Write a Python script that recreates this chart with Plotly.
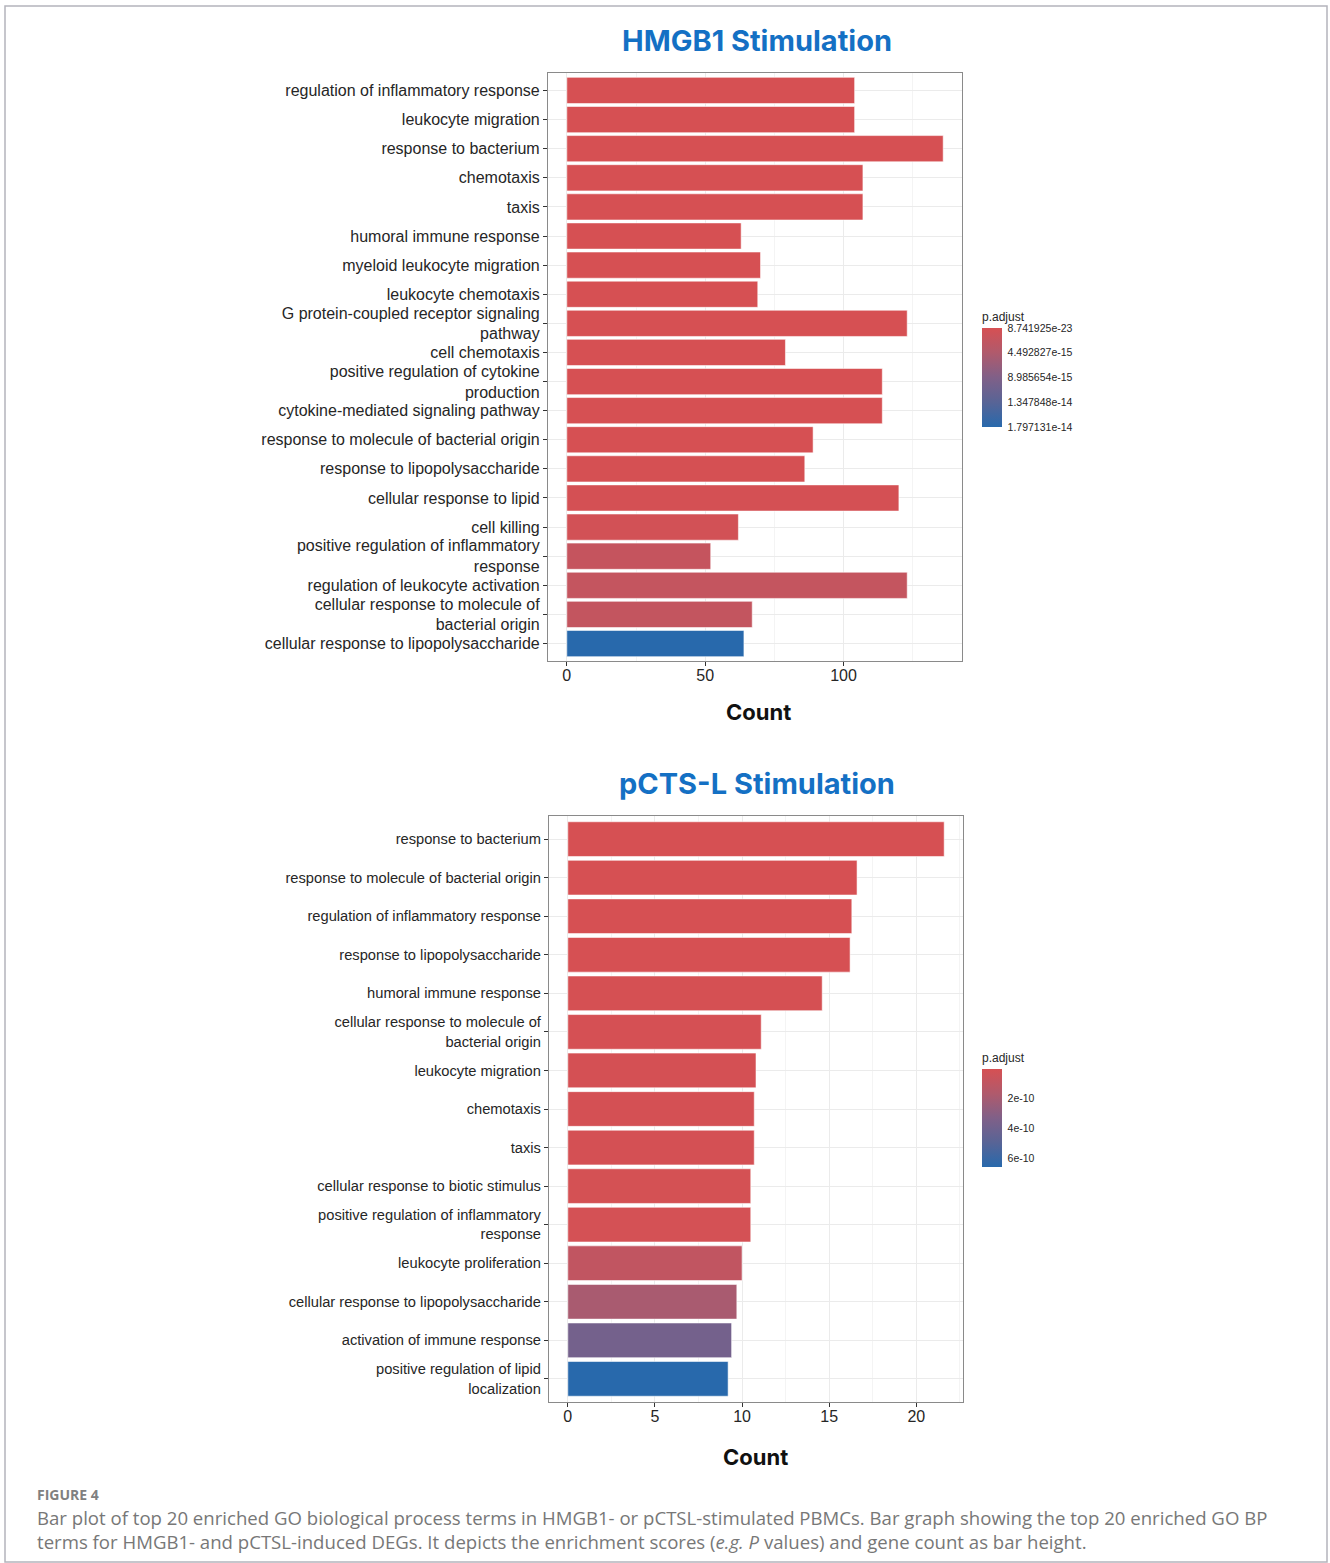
import plotly.graph_objects as go

# ---- HMGB1 panel: GO BP terms, gene counts and adjusted p-values ----
hmgb1_terms = [
    "regulation of inflammatory response",
    "leukocyte migration",
    "response to bacterium",
    "chemotaxis",
    "taxis",
    "humoral immune response",
    "myeloid leukocyte migration",
    "leukocyte chemotaxis",
    "G protein-coupled receptor signaling<br>pathway",
    "cell chemotaxis",
    "positive regulation of cytokine<br>production",
    "cytokine-mediated signaling pathway",
    "response to molecule of bacterial origin",
    "response to lipopolysaccharide",
    "cellular response to lipid",
    "cell killing",
    "positive regulation of inflammatory<br>response",
    "regulation of leukocyte activation",
    "cellular response to molecule of<br>bacterial origin",
    "cellular response to lipopolysaccharide",
]
hmgb1_count = [104, 104, 136, 107, 107, 63, 70, 69, 123, 79,
               114, 114, 89, 86, 120, 62, 52, 123, 67, 64]
hmgb1_padj = [8.741925e-23, 1.2e-21, 3.5e-21, 8.0e-21, 8.0e-21, 2.0e-19, 4.0e-19, 6.0e-19,
              1.0e-18, 4.0e-18, 1.0e-17, 1.0e-17, 3.0e-17, 8.0e-17, 2.0e-16, 5.0e-16,
              2.0e-15, 2.1e-15, 2.2e-15, 1.797131e-14]
hmgb1_ticks = [8.741925e-23, 4.492827e-15, 8.985654e-15, 1.347848e-14, 1.797131e-14]
hmgb1_ticktext = ["8.741925e-23", "4.492827e-15", "8.985654e-15", "1.347848e-14", "1.797131e-14"]

# ---- pCTS-L panel ----
pctsl_terms = [
    "response to bacterium",
    "response to molecule of bacterial origin",
    "regulation of inflammatory response",
    "response to lipopolysaccharide",
    "humoral immune response",
    "cellular response to molecule of<br>bacterial origin",
    "leukocyte migration",
    "chemotaxis",
    "taxis",
    "cellular response to biotic stimulus",
    "positive regulation of inflammatory<br>response",
    "leukocyte proliferation",
    "cellular response to lipopolysaccharide",
    "activation of immune response",
    "positive regulation of lipid<br>localization",
]
pctsl_count = [21.6, 16.6, 16.3, 16.2, 14.6, 11.1, 10.8, 10.7, 10.7, 10.5, 10.5, 10.0, 9.7, 9.4, 9.2]
pctsl_padj = [1.0e-12, 1.5e-12, 2.0e-12, 2.5e-12, 4.0e-12, 6.0e-12, 8.0e-12, 9.0e-12,
              9.0e-12, 1.0e-11, 1.1e-11, 9.0e-11, 1.9e-10, 3.8e-10, 6.6e-10]
pctsl_ticks = [2e-10, 4e-10, 6e-10]
pctsl_ticktext = ["2e-10", "4e-10", "6e-10"]

W, H = 1330, 1563
RED_BLUE = [
    [0.0, "rgb(40,105,172)"],
    [0.25, "rgb(88,100,150)"],
    [0.5, "rgb(128,96,136)"],
    [0.75, "rgb(176,90,108)"],
    [1.0, "rgb(214,80,83)"],
]
LABEL_FONT = dict(family="Liberation Sans, Arial, sans-serif", color="#262626")


def px_x(p):
    return p / W


def px_y(p):
    return 1 - p / H


fig = go.Figure()

# colour is driven by -p.adjust so the smallest p-values sit at the top of the colour bar
fig.add_trace(go.Bar(
    x=hmgb1_count, y=hmgb1_terms, orientation="h", width=0.9,
    marker=dict(color=[-v for v in hmgb1_padj], coloraxis="coloraxis",
                line=dict(color="rgba(255,255,255,0.55)", width=1)),
    xaxis="x", yaxis="y", showlegend=False,
))
fig.add_trace(go.Bar(
    x=pctsl_count, y=pctsl_terms, orientation="h", width=0.9,
    marker=dict(color=[-v for v in pctsl_padj], coloraxis="coloraxis2",
                line=dict(color="rgba(255,255,255,0.55)", width=1)),
    xaxis="x2", yaxis="y2", showlegend=False,
))


def xaxis_style(domain, rng, dtick, anchor):
    return dict(
        domain=domain, range=rng, anchor=anchor, dtick=dtick, tick0=0,
        showgrid=True, gridcolor="#ebebeb", gridwidth=1,
        minor=dict(showgrid=True, gridcolor="#f4f4f4", gridwidth=1, dtick=dtick / 2, tick0=0),
        zeroline=False, ticks="outside", ticklen=4, tickcolor="#333",
        tickfont=dict(size=16, **LABEL_FONT), ticklabelstandoff=-4,
        showline=True, linecolor="#8a8a8a", linewidth=1.2, mirror=True,
    )


def yaxis_style(domain, terms, anchor, size):
    return dict(
        domain=domain, type="category", categoryorder="array",
        categoryarray=list(reversed(terms)), range=[-0.6, len(terms) - 0.4],
        anchor=anchor, showgrid=True, gridcolor="#ebebeb", gridwidth=1,
        ticks="outside", ticklen=4, tickcolor="#333",
        tickfont=dict(size=size, **LABEL_FONT),
        showline=True, linecolor="#8a8a8a", linewidth=1.2, mirror=True,
    )


top_max = max(hmgb1_count)
bot_max = max(pctsl_count)


def colorbar_style(center_px, length_px, tickvals, ticktext):
    return dict(
        title=dict(text="p.adjust", side="top", font=dict(size=12, **LABEL_FONT)),
        x=px_x(982), xanchor="left", y=px_y(center_px), yanchor="middle",
        thickness=20, lenmode="pixels", len=length_px, outlinewidth=0,
        tickvals=[-v for v in tickvals], ticktext=ticktext,
        ticks="outside", ticklen=4, tickcolor="white",
        tickfont=dict(size=10.5, **LABEL_FONT), ypad=0, xpad=0,
    )


fig.update_layout(
    width=W, height=H,
    margin=dict(l=0, r=0, t=0, b=0),
    paper_bgcolor="white", plot_bgcolor="white",
    bargap=0.1,
    xaxis=xaxis_style([px_x(548), px_x(962)], [-0.05 * top_max, 1.05 * top_max], 50, "y"),
    yaxis=yaxis_style([px_y(661), px_y(73)], hmgb1_terms, "x", 16),
    xaxis2=xaxis_style([px_x(549), px_x(963)], [-0.05 * bot_max, 1.05 * bot_max], 5, "y2"),
    yaxis2=yaxis_style([px_y(1402), px_y(816)], pctsl_terms, "x2", 14.7),
    coloraxis=dict(
        colorscale=RED_BLUE, cmin=-max(hmgb1_padj), cmax=-min(hmgb1_padj),
        colorbar=colorbar_style(368, 118, hmgb1_ticks, hmgb1_ticktext),
    ),
    coloraxis2=dict(
        colorscale=RED_BLUE, cmin=-max(pctsl_padj), cmax=-min(pctsl_padj),
        colorbar=colorbar_style(1108.5, 117, pctsl_ticks, pctsl_ticktext),
    ),
)

TITLE_FONT = dict(family="Inter, Open Sans, sans-serif", size=29, color="#1470c4", weight="bold")
AXIS_TITLE_FONT = dict(family="Inter, Open Sans, sans-serif", size=22, color="#111", weight="bold")
CAPTION_FONT = dict(family="Open Sans, sans-serif", size=18.6, color="#777")

annotations = [
    dict(text="HMGB1 Stimulation", x=px_x(757), y=px_y(40), font=TITLE_FONT),
    dict(text="pCTS-L Stimulation", x=px_x(757), y=px_y(783), font=TITLE_FONT),
    dict(text="Count", x=px_x(758), y=px_y(712), font=AXIS_TITLE_FONT),
    dict(text="Count", x=px_x(755), y=px_y(1457), font=AXIS_TITLE_FONT),
    dict(text="FIGURE 4", x=px_x(35), y=px_y(1494), xanchor="left",
         font=dict(family="Open Sans, sans-serif", size=14, color="#808080", weight="bold")),
    dict(text="Bar plot of top 20 enriched GO biological process terms in HMGB1- or pCTSL-stimulated PBMCs. "
              "Bar graph showing the top 20 enriched GO BP",
         x=px_x(35), y=px_y(1517), xanchor="left", font=CAPTION_FONT),
    dict(text="terms for HMGB1- and pCTSL-induced DEGs. It depicts the enrichment scores "
              "(<i>e.g. P</i> values) and gene count as bar height.",
         x=px_x(35), y=px_y(1541), xanchor="left", font=CAPTION_FONT),
]
for a in annotations:
    a.setdefault("xanchor", "center")
    fig.add_annotation(xref="paper", yref="paper", yanchor="middle", showarrow=False, **a)

# thin frame around the whole figure
fig.add_shape(type="rect", xref="paper", yref="paper",
              x0=px_x(5), x1=px_x(1327), y0=px_y(1562), y1=px_y(6),
              line=dict(color="#b4b4bc", width=1.5), fillcolor="rgba(0,0,0,0)", layer="below")

fig.write_html("out.html")
